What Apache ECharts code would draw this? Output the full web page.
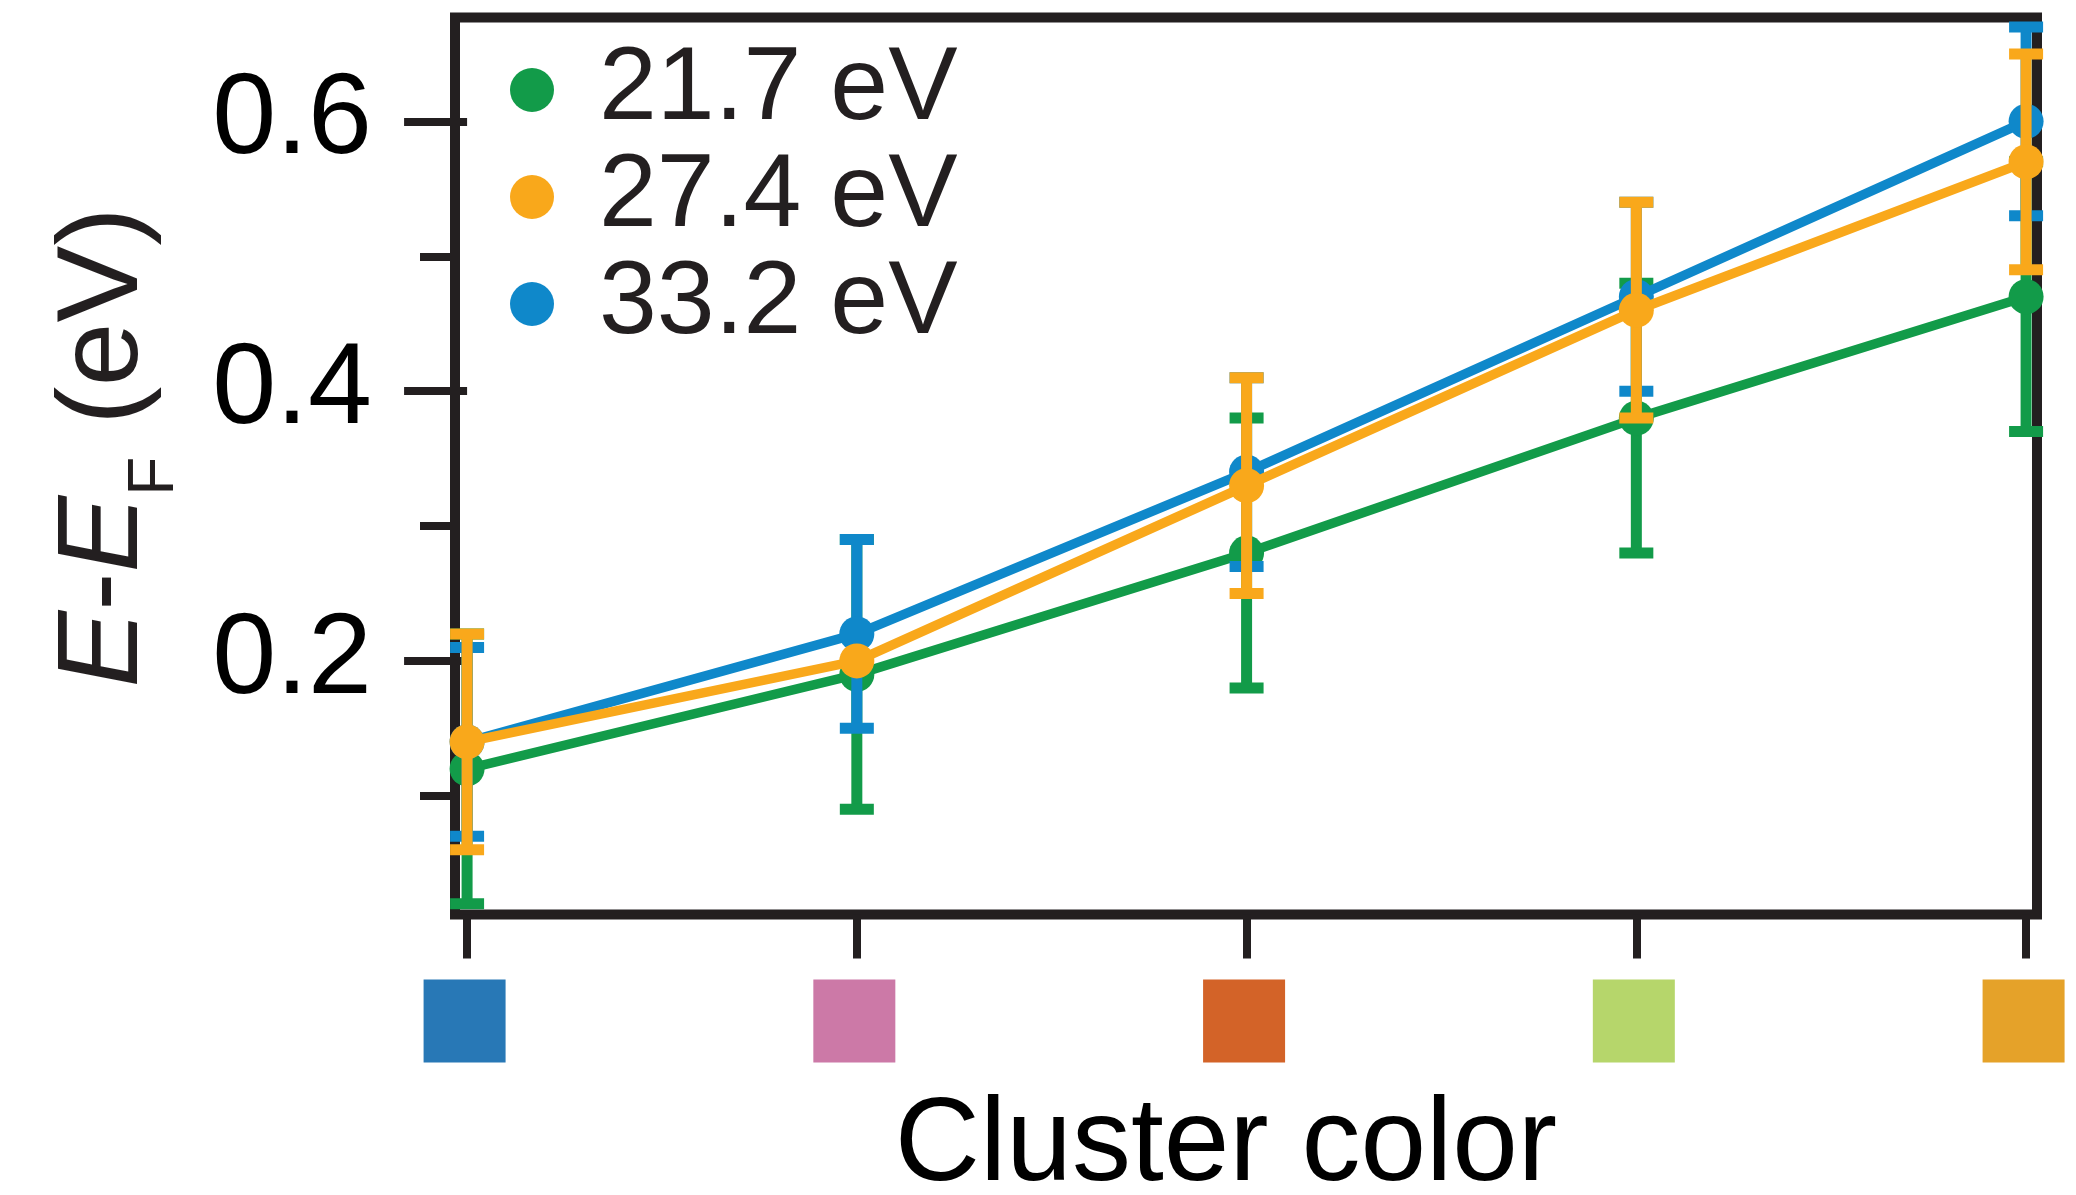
<!DOCTYPE html>
<html>
<head>
<meta charset="utf-8">
<script src="https://cdn.jsdelivr.net/npm/echarts@6/dist/echarts.min.js"></script>
<style>
html,body{margin:0;padding:0;background:#fff;}
#chart{width:2076px;height:1195px;}
</style>
</head>
<body>
<div id="chart"></div>
<script>
// ---- data ----
const clusterIndex = [0, 1, 2, 3, 4];
const clusterColors = ['#2878b6', '#cc79a7', '#d36328', '#b6d66b', '#e5a229'];
const seriesNames = ['21.7 eV', '27.4 eV', '33.2 eV'];
const seriesColors = ['#129b49', '#f9a81b', '#0f88ca'];
const values217 = [0.12, 0.19, 0.28, 0.38, 0.47];
const errors217 = [0.10, 0.10, 0.10, 0.10, 0.10];
const values274 = [0.14, 0.20, 0.33, 0.46, 0.57];
const errors274 = [0.08, null, 0.08, 0.08, 0.08];
const values332 = [0.14, 0.22, 0.34, 0.47, 0.60];
const errors332 = [0.07, 0.07, 0.07, 0.07, 0.07];
const yMajorTicks = [0.2, 0.4, 0.6];
const yMinorTicks = [0.1, 0.3, 0.5];
const yRange = [0.012, 0.677];
const xRange = [-0.031, 4.028];

const INK = '#231f20';
const FONT = '"Liberation Sans", Arial, Helvetica, sans-serif';

function pts(vals) { return clusterIndex.map((x, i) => [x, vals[i]]); }
function errPts(vals, errs) { return clusterIndex.map((x, i) => [x, vals[i], errs[i] == null ? 0 : errs[i]]); }

function errSeries(name, vals, errs, color, z) {
  return {
    type: 'custom', name: name + ' err', z: z, clip: false,
    encode: { x: 0, y: 1 },
    data: errPts(vals, errs),
    renderItem: function (params, api) {
      const x = api.value(0), y = api.value(1), e = api.value(2);
      if (!e) return;
      const t = api.coord([x, y + e]);
      const b = api.coord([x, y - e]);
      const hw = 17;
      return {
        type: 'group',
        children: [
          { type: 'line', shape: { x1: t[0], y1: t[1], x2: b[0], y2: b[1] }, style: { stroke: color, lineWidth: 11 } },
          { type: 'line', shape: { x1: t[0] - hw, y1: t[1], x2: t[0] + hw, y2: t[1] }, style: { stroke: color, lineWidth: 11 } },
          { type: 'line', shape: { x1: b[0] - hw, y1: b[1], x2: b[0] + hw, y2: b[1] }, style: { stroke: color, lineWidth: 11 } }
        ]
      };
    }
  };
}
function lineSeries(name, vals, color, z) {
  return {
    type: 'line', name: name, z: z, clip: false,
    data: pts(vals),
    symbol: 'circle', symbolSize: 35,
    itemStyle: { color: color },
    lineStyle: { color: color, width: 9.5 },
    emphasis: { disabled: true }
  };
}

const rich = {};
clusterIndex.forEach((v, i) => {
  rich['c' + v] = { backgroundColor: clusterColors[i], width: 82, height: 83 };
});

const chart = echarts.init(document.getElementById('chart'), null, { renderer: 'canvas' });
chart.setOption({
  animation: false,
  backgroundColor: '#fff',
  textStyle: { fontFamily: FONT },
  grid: {
    left: 455, right: 39, top: 17.5, bottom: 280.5,
    show: true, borderColor: INK, borderWidth: 10, backgroundColor: 'transparent',
    containLabel: false, outerBoundsMode: 'none'
  },
  legend: {
    data: seriesNames,
    orient: 'vertical', left: 505, top: 33,
    icon: 'circle', itemWidth: 44, itemHeight: 44, itemGap: 3,
    textStyle: { fontSize: 104, lineHeight: 100, color: INK, fontFamily: FONT, padding: [0, 0, 0, 40] },
    selectedMode: false
  },
  xAxis: {
    type: 'value', min: xRange[0], max: xRange[1],
    axisLine: { show: false },
    splitLine: { show: false },
    axisTick: { show: true, customValues: clusterIndex, length: 44, lineStyle: { color: INK, width: 8 } },
    axisLabel: {
      customValues: clusterIndex, margin: 65,
      formatter: v => '{c' + Math.round(v) + '|}',
      rich: rich,
      padding: [0, 5, 0, 0]
    },
    name: 'Cluster color', nameLocation: 'middle', nameGap: 174,
    nameTextStyle: { fontSize: 118, lineHeight: 118, color: '#000', fontFamily: FONT, padding: [0, 40, 0, 0] }
  },
  yAxis: [
    {
      type: 'value', min: yRange[0], max: yRange[1], position: 'left',
      axisLine: { show: false }, splitLine: { show: false },
      axisTick: { show: true, customValues: yMajorTicks, length: 63, lineStyle: { color: INK, width: 8 } },
      axisLabel: { customValues: yMajorTicks, margin: 83, fontSize: 115, color: '#000', fontFamily: FONT, formatter: v => v.toFixed(1) },
      name: '{i|E}{n|-}{i|E}{s|F}{n| (eV)}', nameLocation: 'middle', nameRotate: 90, nameGap: 268,
      nameTextStyle: {
        padding: [0, 0, 0, 37],
        rich: {
          i: { fontSize: 115, fontStyle: 'italic', color: INK, fontFamily: FONT },
          n: { fontSize: 115, color: INK, fontFamily: FONT },
          s: { fontSize: 64, color: INK, fontFamily: FONT, padding: [100, 0, 0, 0] }
        }
      }
    },
    {
      type: 'value', min: yRange[0], max: yRange[1], position: 'left',
      axisLine: { show: false }, splitLine: { show: false },
      axisTick: { show: true, customValues: yMinorTicks, length: 35, lineStyle: { color: INK, width: 8 } },
      axisLabel: { show: false }
    }
  ],
  series: [
    errSeries(seriesNames[0], values217, errors217, seriesColors[0], 2),
    lineSeries(seriesNames[0], values217, seriesColors[0], 3),
    errSeries(seriesNames[2], values332, errors332, seriesColors[2], 4),
    lineSeries(seriesNames[2], values332, seriesColors[2], 5),
    errSeries(seriesNames[1], values274, errors274, seriesColors[1], 6),
    lineSeries(seriesNames[1], values274, seriesColors[1], 7)
  ]
});
</script>
</body>
</html>
